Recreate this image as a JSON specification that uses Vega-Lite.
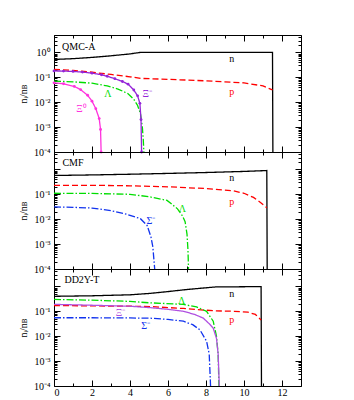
{
  "$schema": "https://vega.github.io/schema/vega-lite/v6.json",
  "padding": {"left": 17, "top": 34, "right": 5, "bottom": 2},
  "bounds": "flush",
  "spacing": 0,
  "config": {
    "font": "Liberation Serif",
    "view": {"stroke": "black", "strokeWidth": 1},
    "axis": {"labelFont": "Liberation Serif", "titleFont": "Liberation Serif", "labelColor": "black", "titleColor": "black", "tickColor": "black", "labelFontSize": 10, "titleFontSize": 10, "titleFontWeight": "normal", "grid": false, "domain": false},
    "text": {"font": "Liberation Serif", "fontSize": 10}
  },
  "datasets": {
    "curves": [
      {"panel": "QMC-A", "s": "n", "x": 0, "y": 0.52}, {"panel": "QMC-A", "s": "n", "x": 1, "y": 0.56}, {"panel": "QMC-A", "s": "n", "x": 2, "y": 0.63}, {"panel": "QMC-A", "s": "n", "x": 3, "y": 0.73}, {"panel": "QMC-A", "s": "n", "x": 4, "y": 0.87}, {"panel": "QMC-A", "s": "n", "x": 4.55, "y": 1.0}, {"panel": "QMC-A", "s": "n", "x": 6, "y": 1.0}, {"panel": "QMC-A", "s": "n", "x": 8, "y": 1.0}, {"panel": "QMC-A", "s": "n", "x": 10, "y": 1.0}, {"panel": "QMC-A", "s": "n", "x": 11.5, "y": 1.0}, {"panel": "QMC-A", "s": "n", "x": 11.52, "y": 0.0001},
      {"panel": "QMC-A", "s": "p", "x": 0, "y": 0.21}, {"panel": "QMC-A", "s": "p", "x": 1, "y": 0.19}, {"panel": "QMC-A", "s": "p", "x": 2, "y": 0.16}, {"panel": "QMC-A", "s": "p", "x": 3, "y": 0.13}, {"panel": "QMC-A", "s": "p", "x": 4, "y": 0.105}, {"panel": "QMC-A", "s": "p", "x": 4.6, "y": 0.09}, {"panel": "QMC-A", "s": "p", "x": 6, "y": 0.083}, {"panel": "QMC-A", "s": "p", "x": 8, "y": 0.072}, {"panel": "QMC-A", "s": "p", "x": 10, "y": 0.06}, {"panel": "QMC-A", "s": "p", "x": 11, "y": 0.045}, {"panel": "QMC-A", "s": "p", "x": 11.5, "y": 0.031},
      {"panel": "QMC-A", "s": "Lambda", "x": 0, "y": 0.07}, {"panel": "QMC-A", "s": "Lambda", "x": 1, "y": 0.066}, {"panel": "QMC-A", "s": "Lambda", "x": 2, "y": 0.058}, {"panel": "QMC-A", "s": "Lambda", "x": 2.8, "y": 0.045}, {"panel": "QMC-A", "s": "Lambda", "x": 3.4, "y": 0.033}, {"panel": "QMC-A", "s": "Lambda", "x": 3.9, "y": 0.022}, {"panel": "QMC-A", "s": "Lambda", "x": 4.2, "y": 0.013}, {"panel": "QMC-A", "s": "Lambda", "x": 4.4, "y": 0.0074}, {"panel": "QMC-A", "s": "Lambda", "x": 4.55, "y": 0.0035}, {"panel": "QMC-A", "s": "Lambda", "x": 4.65, "y": 0.001}, {"panel": "QMC-A", "s": "Lambda", "x": 4.7, "y": 0.0003}, {"panel": "QMC-A", "s": "Lambda", "x": 4.73, "y": 0.0001},
      {"panel": "QMC-A", "s": "Xi-", "x": 0, "y": 0.18}, {"panel": "QMC-A", "s": "Xi-", "x": 0.5, "y": 0.178}, {"panel": "QMC-A", "s": "Xi-", "x": 1, "y": 0.172}, {"panel": "QMC-A", "s": "Xi-", "x": 1.5, "y": 0.162}, {"panel": "QMC-A", "s": "Xi-", "x": 2, "y": 0.147}, {"panel": "QMC-A", "s": "Xi-", "x": 2.5, "y": 0.127}, {"panel": "QMC-A", "s": "Xi-", "x": 2.8, "y": 0.11}, {"panel": "QMC-A", "s": "Xi-", "x": 3.2, "y": 0.088}, {"panel": "QMC-A", "s": "Xi-", "x": 3.6, "y": 0.068}, {"panel": "QMC-A", "s": "Xi-", "x": 3.9, "y": 0.053}, {"panel": "QMC-A", "s": "Xi-", "x": 4.2, "y": 0.031}, {"panel": "QMC-A", "s": "Xi-", "x": 4.4, "y": 0.018}, {"panel": "QMC-A", "s": "Xi-", "x": 4.52, "y": 0.009}, {"panel": "QMC-A", "s": "Xi-", "x": 4.58, "y": 0.002}, {"panel": "QMC-A", "s": "Xi-", "x": 4.61, "y": 0.0001},
      {"panel": "QMC-A", "s": "Xi0", "x": 0, "y": 0.06}, {"panel": "QMC-A", "s": "Xi0", "x": 0.5, "y": 0.055}, {"panel": "QMC-A", "s": "Xi0", "x": 1.07, "y": 0.043}, {"panel": "QMC-A", "s": "Xi0", "x": 1.4, "y": 0.032}, {"panel": "QMC-A", "s": "Xi0", "x": 1.77, "y": 0.019}, {"panel": "QMC-A", "s": "Xi0", "x": 2.0, "y": 0.011}, {"panel": "QMC-A", "s": "Xi0", "x": 2.2, "y": 0.0055}, {"panel": "QMC-A", "s": "Xi0", "x": 2.38, "y": 0.0022}, {"panel": "QMC-A", "s": "Xi0", "x": 2.45, "y": 0.0008}, {"panel": "QMC-A", "s": "Xi0", "x": 2.48, "y": 0.0001},

      {"panel": "CMF", "s": "n", "x": 0, "y": 0.57}, {"panel": "CMF", "s": "n", "x": 2, "y": 0.6}, {"panel": "CMF", "s": "n", "x": 4, "y": 0.64}, {"panel": "CMF", "s": "n", "x": 6, "y": 0.69}, {"panel": "CMF", "s": "n", "x": 8, "y": 0.75}, {"panel": "CMF", "s": "n", "x": 10, "y": 0.83}, {"panel": "CMF", "s": "n", "x": 11.2, "y": 0.9}, {"panel": "CMF", "s": "n", "x": 11.22, "y": 0.0001},
      {"panel": "CMF", "s": "p", "x": 0, "y": 0.23}, {"panel": "CMF", "s": "p", "x": 2, "y": 0.23}, {"panel": "CMF", "s": "p", "x": 4, "y": 0.22}, {"panel": "CMF", "s": "p", "x": 6, "y": 0.2}, {"panel": "CMF", "s": "p", "x": 8, "y": 0.17}, {"panel": "CMF", "s": "p", "x": 9.4, "y": 0.14}, {"panel": "CMF", "s": "p", "x": 10, "y": 0.11}, {"panel": "CMF", "s": "p", "x": 10.5, "y": 0.075}, {"panel": "CMF", "s": "p", "x": 10.9, "y": 0.045}, {"panel": "CMF", "s": "p", "x": 11.2, "y": 0.029},
      {"panel": "CMF", "s": "Lambda", "x": 0, "y": 0.11}, {"panel": "CMF", "s": "Lambda", "x": 2, "y": 0.108}, {"panel": "CMF", "s": "Lambda", "x": 4, "y": 0.1}, {"panel": "CMF", "s": "Lambda", "x": 5, "y": 0.08}, {"panel": "CMF", "s": "Lambda", "x": 5.95, "y": 0.057}, {"panel": "CMF", "s": "Lambda", "x": 6.5, "y": 0.026}, {"panel": "CMF", "s": "Lambda", "x": 6.75, "y": 0.014}, {"panel": "CMF", "s": "Lambda", "x": 6.9, "y": 0.008}, {"panel": "CMF", "s": "Lambda", "x": 7.0, "y": 0.0025}, {"panel": "CMF", "s": "Lambda", "x": 7.05, "y": 0.0006}, {"panel": "CMF", "s": "Lambda", "x": 7.08, "y": 0.0001},
      {"panel": "CMF", "s": "Sigma-", "x": 0, "y": 0.031}, {"panel": "CMF", "s": "Sigma-", "x": 1, "y": 0.03}, {"panel": "CMF", "s": "Sigma-", "x": 2, "y": 0.028}, {"panel": "CMF", "s": "Sigma-", "x": 3, "y": 0.022}, {"panel": "CMF", "s": "Sigma-", "x": 3.8, "y": 0.016}, {"panel": "CMF", "s": "Sigma-", "x": 4.55, "y": 0.0105}, {"panel": "CMF", "s": "Sigma-", "x": 4.9, "y": 0.0056}, {"panel": "CMF", "s": "Sigma-", "x": 5.1, "y": 0.002}, {"panel": "CMF", "s": "Sigma-", "x": 5.2, "y": 0.0008}, {"panel": "CMF", "s": "Sigma-", "x": 5.3, "y": 0.0001},

      {"panel": "DD2Y-T", "s": "n", "x": 0, "y": 0.4}, {"panel": "DD2Y-T", "s": "n", "x": 2, "y": 0.42}, {"panel": "DD2Y-T", "s": "n", "x": 4, "y": 0.46}, {"panel": "DD2Y-T", "s": "n", "x": 5, "y": 0.52}, {"panel": "DD2Y-T", "s": "n", "x": 6, "y": 0.62}, {"panel": "DD2Y-T", "s": "n", "x": 7, "y": 0.75}, {"panel": "DD2Y-T", "s": "n", "x": 8, "y": 0.88}, {"panel": "DD2Y-T", "s": "n", "x": 8.5, "y": 0.95}, {"panel": "DD2Y-T", "s": "n", "x": 10, "y": 0.97}, {"panel": "DD2Y-T", "s": "n", "x": 10.9, "y": 0.98}, {"panel": "DD2Y-T", "s": "n", "x": 10.92, "y": 0.0001},
      {"panel": "DD2Y-T", "s": "p", "x": 0, "y": 0.17}, {"panel": "DD2Y-T", "s": "p", "x": 2, "y": 0.165}, {"panel": "DD2Y-T", "s": "p", "x": 4, "y": 0.16}, {"panel": "DD2Y-T", "s": "p", "x": 5.07, "y": 0.155}, {"panel": "DD2Y-T", "s": "p", "x": 6.8, "y": 0.13}, {"panel": "DD2Y-T", "s": "p", "x": 8.4, "y": 0.105}, {"panel": "DD2Y-T", "s": "p", "x": 9.5, "y": 0.1}, {"panel": "DD2Y-T", "s": "p", "x": 10.2, "y": 0.093}, {"panel": "DD2Y-T", "s": "p", "x": 10.6, "y": 0.075}, {"panel": "DD2Y-T", "s": "p", "x": 10.9, "y": 0.045},
      {"panel": "DD2Y-T", "s": "Lambda", "x": 0, "y": 0.3}, {"panel": "DD2Y-T", "s": "Lambda", "x": 2, "y": 0.28}, {"panel": "DD2Y-T", "s": "Lambda", "x": 4, "y": 0.25}, {"panel": "DD2Y-T", "s": "Lambda", "x": 5, "y": 0.22}, {"panel": "DD2Y-T", "s": "Lambda", "x": 6.8, "y": 0.19}, {"panel": "DD2Y-T", "s": "Lambda", "x": 7.5, "y": 0.15}, {"panel": "DD2Y-T", "s": "Lambda", "x": 8.03, "y": 0.1}, {"panel": "DD2Y-T", "s": "Lambda", "x": 8.38, "y": 0.04}, {"panel": "DD2Y-T", "s": "Lambda", "x": 8.55, "y": 0.01}, {"panel": "DD2Y-T", "s": "Lambda", "x": 8.64, "y": 0.0019}, {"panel": "DD2Y-T", "s": "Lambda", "x": 8.68, "y": 0.0001},
      {"panel": "DD2Y-T", "s": "Xi-", "x": 0, "y": 0.19}, {"panel": "DD2Y-T", "s": "Xi-", "x": 2, "y": 0.175}, {"panel": "DD2Y-T", "s": "Xi-", "x": 4, "y": 0.16}, {"panel": "DD2Y-T", "s": "Xi-", "x": 5.07, "y": 0.14}, {"panel": "DD2Y-T", "s": "Xi-", "x": 6, "y": 0.12}, {"panel": "DD2Y-T", "s": "Xi-", "x": 6.81, "y": 0.1}, {"panel": "DD2Y-T", "s": "Xi-", "x": 7.4, "y": 0.075}, {"panel": "DD2Y-T", "s": "Xi-", "x": 7.86, "y": 0.053}, {"panel": "DD2Y-T", "s": "Xi-", "x": 8.2, "y": 0.03}, {"panel": "DD2Y-T", "s": "Xi-", "x": 8.38, "y": 0.021}, {"panel": "DD2Y-T", "s": "Xi-", "x": 8.55, "y": 0.0083}, {"panel": "DD2Y-T", "s": "Xi-", "x": 8.64, "y": 0.0019}, {"panel": "DD2Y-T", "s": "Xi-", "x": 8.7, "y": 0.0001},
      {"panel": "DD2Y-T", "s": "Sigma-", "x": 0, "y": 0.055}, {"panel": "DD2Y-T", "s": "Sigma-", "x": 2, "y": 0.055}, {"panel": "DD2Y-T", "s": "Sigma-", "x": 4, "y": 0.054}, {"panel": "DD2Y-T", "s": "Sigma-", "x": 5.07, "y": 0.053}, {"panel": "DD2Y-T", "s": "Sigma-", "x": 6, "y": 0.047}, {"panel": "DD2Y-T", "s": "Sigma-", "x": 6.81, "y": 0.04}, {"panel": "DD2Y-T", "s": "Sigma-", "x": 7.3, "y": 0.029}, {"panel": "DD2Y-T", "s": "Sigma-", "x": 7.68, "y": 0.018}, {"panel": "DD2Y-T", "s": "Sigma-", "x": 8.03, "y": 0.0063}, {"panel": "DD2Y-T", "s": "Sigma-", "x": 8.17, "y": 0.0019}, {"panel": "DD2Y-T", "s": "Sigma-", "x": 8.24, "y": 0.0001}
    ],
    "labels": [
      {"panel": "QMC-A", "s": "name", "t": "QMC-A", "x": 1.3, "y": 1.7},
      {"panel": "QMC-A", "s": "n", "t": "n", "x": 9.35, "y": 0.56},
      {"panel": "QMC-A", "s": "p", "t": "p", "x": 9.35, "y": 0.026},
      {"panel": "QMC-A", "s": "Lambda", "t": "Λ", "x": 2.83, "y": 0.022},
      {"panel": "QMC-A", "s": "Xi-", "t": "Ξ⁻", "x": 4.9, "y": 0.022},
      {"panel": "QMC-A", "s": "Xi0", "t": "Ξ⁰", "x": 1.45, "y": 0.0055},
      {"panel": "CMF", "s": "name", "t": "CMF", "x": 1.0, "y": 1.86},
      {"panel": "CMF", "s": "n", "t": "n", "x": 9.35, "y": 0.45},
      {"panel": "CMF", "s": "p", "t": "p", "x": 9.35, "y": 0.05},
      {"panel": "CMF", "s": "Lambda", "t": "Λ", "x": 6.75, "y": 0.026},
      {"panel": "CMF", "s": "Sigma-", "t": "Σ⁻", "x": 5.1, "y": 0.0087},
      {"panel": "DD2Y-T", "s": "name", "t": "DD2Y-T", "x": 1.47, "y": 1.76},
      {"panel": "DD2Y-T", "s": "n", "t": "n", "x": 9.35, "y": 0.48},
      {"panel": "DD2Y-T", "s": "Lambda", "t": "Λ", "x": 6.72, "y": 0.25},
      {"panel": "DD2Y-T", "s": "p", "t": "p", "x": 9.35, "y": 0.044},
      {"panel": "DD2Y-T", "s": "Xi-", "t": "Ξ⁻", "x": 3.5, "y": 0.083},
      {"panel": "DD2Y-T", "s": "Sigma-", "t": "Σ⁻", "x": 4.82, "y": 0.025}
    ]
  },
  "resolve": {"scale": {"color": "independent", "strokeDash": "independent"}},
  "vconcat": [
    {
      "width": 247, "height": 117,
      "resolve": {"axis": {"x": "independent", "y": "independent"}},
      "layer": [
        {
          "data": {"name": "curves"},
          "transform": [{"filter": "datum.panel == 'QMC-A'"}],
          "mark": {"type": "line", "strokeWidth": 1.3, "clip": true},
          "encoding": {
            "x": {"field": "x", "type": "quantitative", "scale": {"domain": [0, 13], "nice": false, "zero": false},
              "axis": {"orient": "bottom", "values": [0,1,2,3,4,5,6,7,8,9,10,11,12], "labels": false, "title": null,
                "tickSize": {"condition": {"test": "datum.value % 2 == 0", "value": -6}, "value": -3}}},
            "y": {"field": "y", "type": "quantitative", "scale": {"type": "log", "domain": [0.0001, 5], "nice": false},
              "axis": {"orient": "left", "title": "nᵢ/nʙ", "titlePadding": 4, "minExtent": 22, "maxExtent": 22, "labelPadding": 10,
                "values": [0.0001,0.0002,0.0003,0.0004,0.0005,0.0006,0.0007,0.0008,0.0009,0.001,0.002,0.003,0.004,0.005,0.006,0.007,0.008,0.009,0.01,0.02,0.03,0.04,0.05,0.06,0.07,0.08,0.09,0.1,0.2,0.3,0.4,0.5,0.6,0.7,0.8,0.9,1,2,3,4,5],
                "labelExpr": "datum.value == 1 ? '10⁰' : datum.value == 0.1 ? '10⁻¹' : datum.value == 0.01 ? '10⁻²' : datum.value == 0.001 ? '10⁻³' : datum.value == 0.0001 ? '10⁻⁴' : ''",
                "tickSize": {"condition": {"test": "abs(log(datum.value)/LN10 - round(log(datum.value)/LN10)) < 0.001", "value": -6}, "value": -3}}},
            "color": {"field": "s", "type": "nominal", "legend": null, "scale": {"domain": ["n", "p", "Lambda", "Xi-", "Xi0", "name"], "range": ["#000000", "#ff0000", "#00dd00", "#9424d8", "#ff33dd", "#000000"]}},
            "strokeDash": {"field": "s", "type": "nominal", "legend": null, "scale": {"domain": ["n", "p", "Lambda", "Xi-", "Xi0", "name"], "range": [[1, 0], [6, 3], [7, 2, 1.5, 2], [1, 0], [1, 0], [1, 0]]}}
          }
        },
        {
          "data": {"name": "curves"},
          "transform": [{"filter": "datum.panel == 'QMC-A' && (datum.s == 'Xi-' || datum.s == 'Xi0')"}],
          "mark": {"type": "point", "filled": true, "size": 8, "opacity": 1},
          "encoding": {
            "x": {"field": "x", "type": "quantitative", "axis": null},
            "y": {"field": "y", "type": "quantitative", "axis": null},
            "color": {"field": "s", "type": "nominal", "legend": null, "scale": {"domain": ["n", "p", "Lambda", "Xi-", "Xi0", "name"], "range": ["#000000", "#ff0000", "#00dd00", "#9424d8", "#ff33dd", "#000000"]}}
          }
        },
        {
          "data": {"name": "labels"},
          "transform": [{"filter": "datum.panel == 'QMC-A'"}],
          "mark": {"type": "text", "fontSize": 10, "baseline": "middle", "align": "center"},
          "encoding": {
            "x": {"field": "x", "type": "quantitative", "axis": null},
            "y": {"field": "y", "type": "quantitative", "axis": null},
            "text": {"field": "t"},
            "color": {"field": "s", "type": "nominal", "legend": null, "scale": {"domain": ["n", "p", "Lambda", "Xi-", "Xi0", "name"], "range": ["#000000", "#ff0000", "#00dd00", "#9424d8", "#ff33dd", "#000000"]}}
          }
        },
        {
          "data": {"name": "curves"},
          "transform": [{"filter": "datum.panel == 'QMC-A'"}],
          "mark": {"type": "point", "opacity": 0},
          "encoding": {
            "x": {"field": "x", "type": "quantitative",
              "axis": {"orient": "top", "values": [0,1,2,3,4,5,6,7,8,9,10,11,12], "labels": false, "title": null,
                "tickSize": {"condition": {"test": "datum.value % 2 == 0", "value": -6}, "value": -3}}},
            "y": {"field": "y", "type": "quantitative",
              "axis": {"orient": "right", "labels": false, "title": null,
                "values": [0.0001,0.0002,0.0003,0.0004,0.0005,0.0006,0.0007,0.0008,0.0009,0.001,0.002,0.003,0.004,0.005,0.006,0.007,0.008,0.009,0.01,0.02,0.03,0.04,0.05,0.06,0.07,0.08,0.09,0.1,0.2,0.3,0.4,0.5,0.6,0.7,0.8,0.9,1,2,3,4,5],
                "tickSize": {"condition": {"test": "abs(log(datum.value)/LN10 - round(log(datum.value)/LN10)) < 0.001", "value": -6}, "value": -3}}}
          }
        }
      ]
    },
    {
      "width": 247, "height": 117,
      "resolve": {"axis": {"x": "independent", "y": "independent"}},
      "layer": [
        {
          "data": {"name": "curves"},
          "transform": [{"filter": "datum.panel == 'CMF'"}],
          "mark": {"type": "line", "strokeWidth": 1.3, "clip": true},
          "encoding": {
            "x": {"field": "x", "type": "quantitative", "scale": {"domain": [0, 13], "nice": false, "zero": false},
              "axis": {"orient": "bottom", "values": [0,1,2,3,4,5,6,7,8,9,10,11,12], "labels": false, "title": null,
                "tickSize": {"condition": {"test": "datum.value % 2 == 0", "value": -6}, "value": -3}}},
            "y": {"field": "y", "type": "quantitative", "scale": {"type": "log", "domain": [0.0001, 5], "nice": false},
              "axis": {"orient": "left", "title": "nᵢ/nʙ", "titlePadding": 4, "minExtent": 22, "maxExtent": 22, "labelPadding": 10,
                "values": [0.0001,0.0002,0.0003,0.0004,0.0005,0.0006,0.0007,0.0008,0.0009,0.001,0.002,0.003,0.004,0.005,0.006,0.007,0.008,0.009,0.01,0.02,0.03,0.04,0.05,0.06,0.07,0.08,0.09,0.1,0.2,0.3,0.4,0.5,0.6,0.7,0.8,0.9,1,2,3,4,5],
                "labelExpr": "datum.value == 0.1 ? '10⁻¹' : datum.value == 0.01 ? '10⁻²' : datum.value == 0.001 ? '10⁻³' : datum.value == 0.0001 ? '10⁻⁴' : ''",
                "tickSize": {"condition": {"test": "abs(log(datum.value)/LN10 - round(log(datum.value)/LN10)) < 0.001", "value": -6}, "value": -3}}},
            "color": {"field": "s", "type": "nominal", "legend": null, "scale": {"domain": ["n", "p", "Lambda", "Sigma-", "name"], "range": ["#000000", "#ff0000", "#00dd00", "#1133ee", "#000000"]}},
            "strokeDash": {"field": "s", "type": "nominal", "legend": null, "scale": {"domain": ["n", "p", "Lambda", "Sigma-", "name"], "range": [[1, 0], [6, 3], [7, 2, 1.5, 2], [7, 2, 1.5, 2], [1, 0]]}}
          }
        },
        {
          "data": {"name": "labels"},
          "transform": [{"filter": "datum.panel == 'CMF'"}],
          "mark": {"type": "text", "fontSize": 10, "baseline": "middle", "align": "center"},
          "encoding": {
            "x": {"field": "x", "type": "quantitative", "axis": null},
            "y": {"field": "y", "type": "quantitative", "axis": null},
            "text": {"field": "t"},
            "color": {"field": "s", "type": "nominal", "legend": null, "scale": {"domain": ["n", "p", "Lambda", "Sigma-", "name"], "range": ["#000000", "#ff0000", "#00dd00", "#1133ee", "#000000"]}}
          }
        },
        {
          "data": {"name": "curves"},
          "transform": [{"filter": "datum.panel == 'CMF'"}],
          "mark": {"type": "point", "opacity": 0},
          "encoding": {
            "x": {"field": "x", "type": "quantitative",
              "axis": {"orient": "top", "values": [0,1,2,3,4,5,6,7,8,9,10,11,12], "labels": false, "title": null,
                "tickSize": {"condition": {"test": "datum.value % 2 == 0", "value": -6}, "value": -3}}},
            "y": {"field": "y", "type": "quantitative",
              "axis": {"orient": "right", "labels": false, "title": null,
                "values": [0.0001,0.0002,0.0003,0.0004,0.0005,0.0006,0.0007,0.0008,0.0009,0.001,0.002,0.003,0.004,0.005,0.006,0.007,0.008,0.009,0.01,0.02,0.03,0.04,0.05,0.06,0.07,0.08,0.09,0.1,0.2,0.3,0.4,0.5,0.6,0.7,0.8,0.9,1,2,3,4,5],
                "tickSize": {"condition": {"test": "abs(log(datum.value)/LN10 - round(log(datum.value)/LN10)) < 0.001", "value": -6}, "value": -3}}}
          }
        }
      ]
    },
    {
      "width": 247, "height": 117,
      "resolve": {"axis": {"x": "independent", "y": "independent"}},
      "layer": [
        {
          "data": {"name": "curves"},
          "transform": [{"filter": "datum.panel == 'DD2Y-T'"}],
          "mark": {"type": "line", "strokeWidth": 1.3, "clip": true},
          "encoding": {
            "x": {"field": "x", "type": "quantitative", "scale": {"domain": [0, 13], "nice": false, "zero": false},
              "axis": {"orient": "bottom", "values": [0,1,2,3,4,5,6,7,8,9,10,11,12], "title": null, "labelPadding": 7,
                "labelExpr": "datum.value % 2 == 0 ? datum.label : ''",
                "tickSize": {"condition": {"test": "datum.value % 2 == 0", "value": -6}, "value": -3}}},
            "y": {"field": "y", "type": "quantitative", "scale": {"type": "log", "domain": [0.0001, 5], "nice": false},
              "axis": {"orient": "left", "title": "nᵢ/nʙ", "titlePadding": 4, "minExtent": 22, "maxExtent": 22, "labelPadding": 10,
                "values": [0.0001,0.0002,0.0003,0.0004,0.0005,0.0006,0.0007,0.0008,0.0009,0.001,0.002,0.003,0.004,0.005,0.006,0.007,0.008,0.009,0.01,0.02,0.03,0.04,0.05,0.06,0.07,0.08,0.09,0.1,0.2,0.3,0.4,0.5,0.6,0.7,0.8,0.9,1,2,3,4,5],
                "labelExpr": "datum.value == 0.1 ? '10⁻¹' : datum.value == 0.01 ? '10⁻²' : datum.value == 0.001 ? '10⁻³' : datum.value == 0.0001 ? '10⁻⁴' : ''",
                "tickSize": {"condition": {"test": "abs(log(datum.value)/LN10 - round(log(datum.value)/LN10)) < 0.001", "value": -6}, "value": -3}}},
            "color": {"field": "s", "type": "nominal", "legend": null, "scale": {"domain": ["n", "p", "Lambda", "Xi-", "Sigma-", "name"], "range": ["#000000", "#ff0000", "#00dd00", "#b050e0", "#1133ee", "#000000"]}},
            "strokeDash": {"field": "s", "type": "nominal", "legend": null, "scale": {"domain": ["n", "p", "Lambda", "Xi-", "Sigma-", "name"], "range": [[1, 0], [6, 3], [7, 2, 1.5, 2], [1, 0], [7, 2, 1.5, 2], [1, 0]]}}
          }
        },
        {
          "data": {"name": "labels"},
          "transform": [{"filter": "datum.panel == 'DD2Y-T'"}],
          "mark": {"type": "text", "fontSize": 10, "baseline": "middle", "align": "center"},
          "encoding": {
            "x": {"field": "x", "type": "quantitative", "axis": null},
            "y": {"field": "y", "type": "quantitative", "axis": null},
            "text": {"field": "t"},
            "color": {"field": "s", "type": "nominal", "legend": null, "scale": {"domain": ["n", "p", "Lambda", "Xi-", "Sigma-", "name"], "range": ["#000000", "#ff0000", "#00dd00", "#b050e0", "#1133ee", "#000000"]}}
          }
        },
        {
          "data": {"name": "curves"},
          "transform": [{"filter": "datum.panel == 'DD2Y-T'"}],
          "mark": {"type": "point", "opacity": 0},
          "encoding": {
            "x": {"field": "x", "type": "quantitative",
              "axis": {"orient": "top", "values": [0,1,2,3,4,5,6,7,8,9,10,11,12], "labels": false, "title": null,
                "tickSize": {"condition": {"test": "datum.value % 2 == 0", "value": -6}, "value": -3}}},
            "y": {"field": "y", "type": "quantitative",
              "axis": {"orient": "right", "labels": false, "title": null,
                "values": [0.0001,0.0002,0.0003,0.0004,0.0005,0.0006,0.0007,0.0008,0.0009,0.001,0.002,0.003,0.004,0.005,0.006,0.007,0.008,0.009,0.01,0.02,0.03,0.04,0.05,0.06,0.07,0.08,0.09,0.1,0.2,0.3,0.4,0.5,0.6,0.7,0.8,0.9,1,2,3,4,5],
                "tickSize": {"condition": {"test": "abs(log(datum.value)/LN10 - round(log(datum.value)/LN10)) < 0.001", "value": -6}, "value": -3}}}
          }
        }
      ]
    }
  ]
}
